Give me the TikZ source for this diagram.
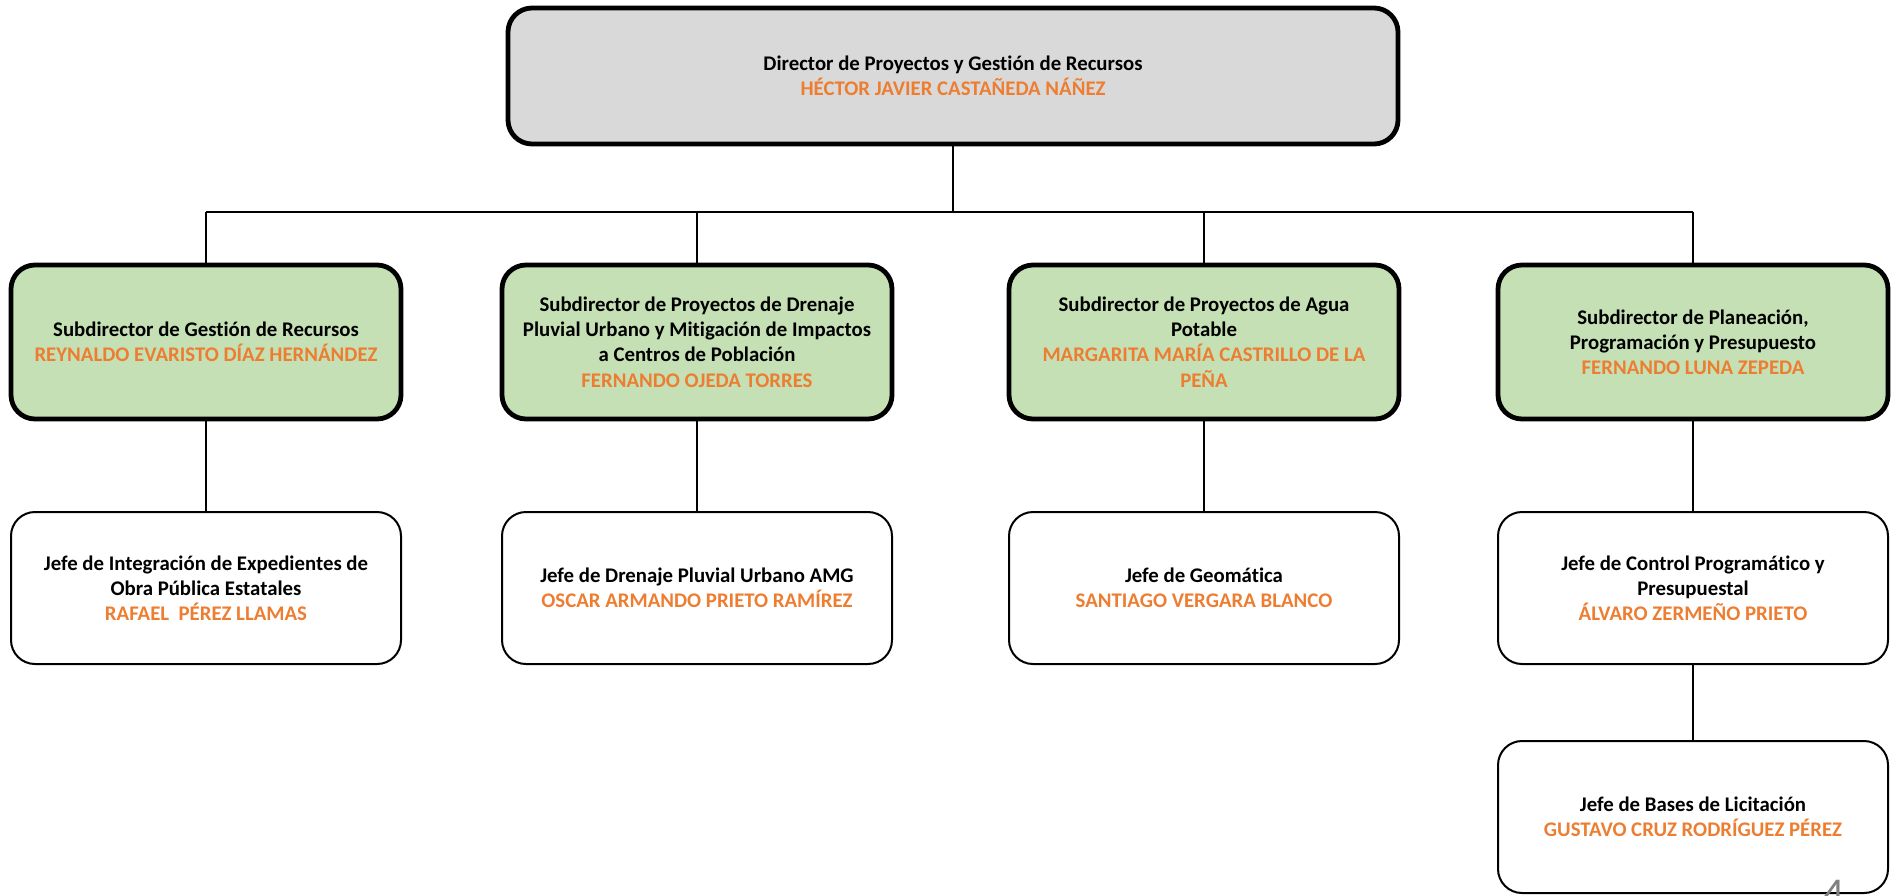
\documentclass[tikz,border=0pt]{standalone}
\usepackage{fontspec}
\setmainfont[Ligatures=NoCommon]{Carlito}
\definecolor{namecol}{HTML}{ED7D31}
\definecolor{dirfill}{HTML}{D9D9D9}
\definecolor{subfill}{HTML}{C5E0B4}
\newcommand{\nombre}[1]{\textcolor{namecol}{#1}}

\begin{document}
\begin{tikzpicture}[x=0.5pt,y=-0.5pt,
    puesto/.style={draw,rounded corners=12pt,align=center,
      font=\fontsize{10.4}{12.6}\selectfont\bfseries,
      minimum width=195pt,inner sep=2pt},
    director/.style={puesto,fill=dirfill,line width=2.4pt,
      minimum width=445pt,minimum height=68pt},
    subdir/.style={puesto,fill=subfill,line width=2.4pt,minimum height=77pt},
    jefe/.style={puesto,line width=1pt,minimum height=76pt},
    liga/.style={line width=0.6pt}]
  \useasboundingbox (0,0) rectangle (1898,895);

  \node [director] (dir) at (953,76)
    {Director de Proyectos y Gestión de Recursos\\
     \nombre{HÉCTOR JAVIER CASTAÑEDA NÁÑEZ}};

  \node [subdir] (s1) at (206,342)
    {Subdirector de Gestión de Recursos\\
     \nombre{REYNALDO EVARISTO DÍAZ HERNÁNDEZ}};
  \node [subdir] (s2) at (697,342)
    {Subdirector de Proyectos de Drenaje\\
     Pluvial Urbano y Mitigación de Impactos\\
     a Centros de Población\\
     \nombre{FERNANDO OJEDA TORRES}};
  \node [subdir] (s3) at (1204,342)
    {Subdirector de Proyectos de Agua\\
     Potable\\
     \nombre{MARGARITA MARÍA CASTRILLO DE LA}\\
     \nombre{PEÑA}};
  \node [subdir] (s4) at (1693,342)
    {Subdirector de Planeación,\\
     Programación y Presupuesto\\
     \nombre{FERNANDO LUNA ZEPEDA}};

  \node [jefe] (j1) at (206,588)
    {Jefe de Integración de Expedientes de\\
     Obra Pública Estatales\\
     \nombre{RAFAEL\ \ PÉREZ LLAMAS}};
  \node [jefe] (j2) at (697,588)
    {Jefe de Drenaje Pluvial Urbano AMG\\
     \nombre{OSCAR ARMANDO PRIETO RAMÍREZ}};
  \node [jefe] (j3) at (1204,588)
    {Jefe de Geomática\\
     \nombre{SANTIAGO VERGARA BLANCO}};
  \node [jefe] (j4) at (1693,588)
    {Jefe de Control Programático y\\
     Presupuestal\\
     \nombre{ÁLVARO ZERMEÑO PRIETO}};

  \node [jefe] (j5) at (1693,817)
    {Jefe de Bases de Licitación\\
     \nombre{GUSTAVO CRUZ RODRÍGUEZ PÉREZ}};

  \node [anchor=north,gray,font=\fontsize{22}{22}\selectfont,inner sep=0pt]
    (pagina) at (1834,880) {4};

  % lineas de mando
  \coordinate (bus) at (953,212);
  \draw [liga] (dir.south) -- (dir.south |- bus);
  \draw [liga] (s1.north |- bus) -- (s4.north |- bus);
  \foreach \s/\j in {s1/j1,s2/j2,s3/j3,s4/j4}{
    \draw [liga] (\s.north) -- (\s.north |- bus);
    \draw [liga] (\s.south) -- (\j.north);
  }
  \draw [liga] (j4.south) -- (j5.north);
\end{tikzpicture}
\end{document}
